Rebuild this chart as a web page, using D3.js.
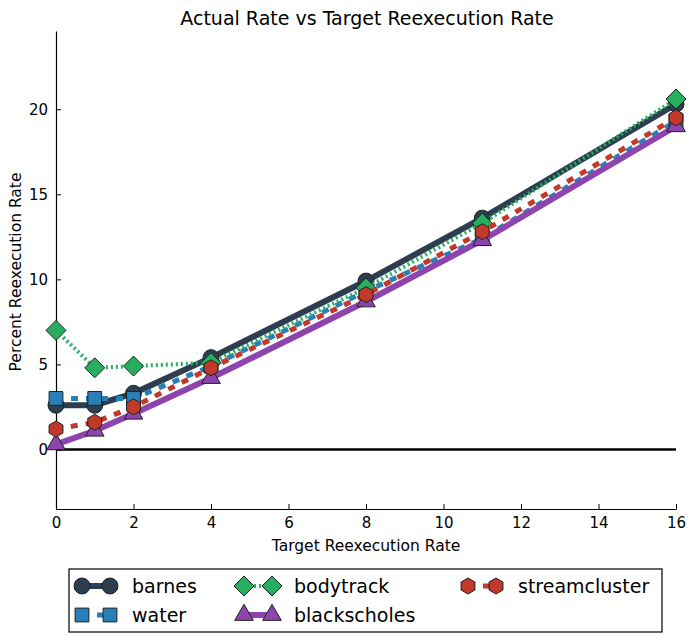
<!DOCTYPE html>
<html><head><meta charset="utf-8">
<script src="https://cdn.jsdelivr.net/npm/d3@7"></script>
<style>body{margin:0;background:#fff}text{font-family:"DejaVu Sans",sans-serif}</style>
</head><body><svg id="c" width="695" height="643"></svg>
<script>
var xs = [0, 1, 2, 4, 8, 11, 16];
var barnes = [2.6, 2.6, 3.3, 5.4, 9.9, 13.6, 20.3];
var water = [3.0, 3.0, 3.0, 4.9, 9.3, 12.4, 19.3];
var bodytrack = [7.0, 4.8, 4.9, 5.1, 9.5, 13.3, 20.6];
var blackscholes = [0.3, 1.1, 2.1, 4.2, 8.7, 12.3, 19.0];
var streamcluster = [1.2, 1.6, 2.5, 4.8, 9.1, 12.8, 19.5];
var xTicks = [0, 2, 4, 6, 8, 10, 12, 14, 16];
var yTicks = [0, 5, 10, 15, 20];

var series = [
    { name: "barnes", v: barnes, c: "#2c3e50", w: 6, dash: null, m: "circle" },
    { name: "water", v: water, c: "#2980b9", w: 5, dash: "7,8", m: "square" },
    { name: "bodytrack", v: bodytrack, c: "#27ae60", w: 4, dash: "2,3", m: "diamond" },
    { name: "blackscholes", v: blackscholes, c: "#8e44ad", w: 6, dash: null, m: "triangle" },
    { name: "streamcluster", v: streamcluster, c: "#c0392b", w: 5, dash: "7,8", m: "hex" }
];

var svg = d3.select("#c");
var L = 56, R = 676, T = 31, B = 509;
var x = d3.scaleLinear().domain([0, 16]).range([L, R]);
var y = d3.scaleLinear().domain([-3.5, 24.6]).range([B, T]);

function symbol(m) {
    if (m === "hex") {
        var r = 8, p = [];
        for (var i = 0; i < 6; i++) { var a = Math.PI / 3 * i - Math.PI / 2; p.push([r * Math.cos(a), r * Math.sin(a)]); }
        return "M" + p.join("L") + "Z";
    }
    if (m === "diamond") return "M0,-10L10,0L0,10L-10,0Z";
    var t = { circle: d3.symbolCircle, square: d3.symbolSquare, triangle: d3.symbolTriangle };
    var size = { circle: 200, square: 190, triangle: 150 }[m];
    return d3.symbol().type(t[m]).size(size)();
}

svg.append("text").attr("x", 367).attr("y", 25).attr("text-anchor", "middle").attr("font-size", 19).text("Actual Rate vs Target Reexecution Rate");

svg.append("line").attr("x1", L).attr("x2", R).attr("y1", y(0)).attr("y2", y(0)).attr("stroke", "#000").attr("stroke-width", 2.5);

var xa = svg.append("g").attr("transform", "translate(0," + B + ")").call(d3.axisBottom(x).tickValues(xTicks).tickSizeInner(-5).tickSizeOuter(0).tickPadding(8));
var ya = svg.append("g").attr("transform", "translate(" + L + ",0)").call(d3.axisLeft(y).tickValues(yTicks).tickSizeInner(-5).tickSizeOuter(0).tickPadding(8));
[xa, ya].forEach(function (a) {
    a.selectAll("text").attr("font-size", 15).attr("fill", "#000");
    a.select(".domain").attr("stroke", "#000").attr("stroke-width", 1.2);
});
svg.append("text").attr("x", 366).attr("y", 551).attr("text-anchor", "middle").attr("font-size", 15.5).text("Target Reexecution Rate");
svg.append("text").attr("transform", "translate(21,272) rotate(-90)").attr("text-anchor", "middle").attr("font-size", 15.5).text("Percent Reexecution Rate");

var line = d3.line().x(function (d, i) { return x(xs[i]); }).y(function (d) { return y(d); });
var plot = svg.append("g");
series.forEach(function (s) {
    var g = plot.append("g");
    g.append("path").attr("d", line(s.v)).attr("fill", "none").attr("stroke", s.c).attr("stroke-width", s.w).attr("stroke-dasharray", s.dash);
    g.selectAll("path.m").data(s.v).enter().append("path").attr("class", "m")
        .attr("transform", function (d, i) { return "translate(" + x(xs[i]) + "," + y(d) + ")"; })
        .attr("d", symbol(s.m)).attr("fill", s.c).attr("stroke", "#222").attr("stroke-width", 1);
});

// legend
var lg = svg.append("g");
lg.append("rect").attr("x", 69).attr("y", 569).attr("width", 593).attr("height", 63).attr("fill", "#fff").attr("stroke", "#000").attr("stroke-width", 1.2);
var pos = [[0, 0], [0, 1], [1, 0], [1, 1], [2, 0]];
var colX = [82, 244, 468];
series.forEach(function (s, i) {
    var cx = colX[pos[i][0]], cy = 586 + pos[i][1] * 29;
    var g = lg.append("g");
    g.append("line").attr("x1", cx).attr("x2", cx + 28).attr("y1", cy).attr("y2", cy).attr("stroke", s.c).attr("stroke-width", s.w).attr("stroke-dasharray", s.dash);
    [cx, cx + 28].forEach(function (px) {
        g.append("path").attr("transform", "translate(" + px + "," + cy + ")").attr("d", symbol(s.m)).attr("fill", s.c).attr("stroke", "#222").attr("stroke-width", 1);
    });
    g.append("text").attr("x", cx + 50).attr("y", cy + 7).attr("font-size", 19).text(s.name);
});
</script></body></html>
